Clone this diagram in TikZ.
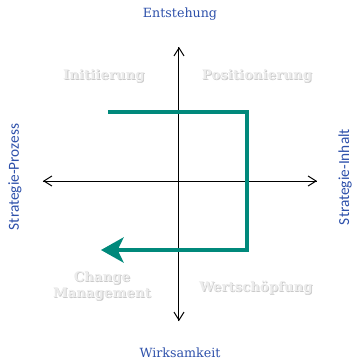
\documentclass[tikz,border=0pt]{standalone}
\usepackage{fontspec}
\setmainfont{DejaVu Serif}
\newfontfamily\sidefont{Carlito}
\usetikzlibrary{arrows.meta}
\definecolor{tealc}{RGB}{0,137,123}
\definecolor{bluec}{RGB}{45,80,170}
\tikzset{
  axis/.style={line width=0.75pt, -{Straight Barb[length=6pt,width=7.5pt,line width=0.75pt]}},
  axislbl/.style={text=bluec, font=\fontsize{9.5}{11}\selectfont, inner sep=0pt},
  sidelbl/.style={text=bluec, font=\sidefont\fontsize{11.5}{13}\selectfont, inner sep=0pt, rotate=90},
  quadlbl/.style={text=gray!15, font=\bfseries\fontsize{10}{12}\selectfont, inner sep=0pt, align=center},
  quadshadow/.style={text=gray!42, font=\bfseries\fontsize{10}{12}\selectfont, inner sep=0pt, align=center},
  tealpath/.style={draw=tealc, line width=2.3pt, -{Stealth[length=17pt,width=19pt,inset=4.5pt]}}
}
\begin{document}
\begin{tikzpicture}[x=0.75pt,y=-0.75pt]
\useasboundingbox (0,0) rectangle (355,362);
% axes
\coordinate (c) at (179,181);
\coordinate (top) at (179,47);
\coordinate (bot) at (179,321);
\coordinate (lft) at (43,181);
\coordinate (rgt) at (317,181);
\draw[axis] (bot) -- (top);
\draw[axis] (top) -- (bot);
\draw[axis] (rgt) -- (lft);
\draw[axis] (lft) -- (rgt);
% axis labels
\node[axislbl] (ent) at (180,14) {Entstehung};
\node[axislbl] (wirk) at (180,353) {Wirksamkeit};
\node[sidelbl] (proz) at (15,177) {Strategie-Prozess};
\node[sidelbl] (inh) at (345,177) {Strategie-Inhalt};
% quadrant labels
\node[quadshadow] (inis) at (104.8,76.8) {Initiierung};
\node[quadlbl] (ini) at (104,76) {Initiierung};
\node[quadshadow] (poss) at (257.8,76.8) {Positionierung};
\node[quadlbl] (pos) at (257,76) {Positionierung};
\node[quadshadow] (werts) at (256.8,288.8) {Wertschöpfung};
\node[quadlbl] (wert) at (256,288) {Wertschöpfung};
\node[quadshadow] (chgs) at (102.8,286.8) {Change\\Management};
\node[quadlbl] (chg) at (102,286) {Change\\Management};
% path
\coordinate (p0) at (108,112);
\coordinate (p1) at (247,112);
\coordinate (p2) at (247,250);
\coordinate (p3) at (101,250);
\draw[tealpath] (p0) -- (p1) -- (p2) -- (p3);
\end{tikzpicture}
\end{document}
